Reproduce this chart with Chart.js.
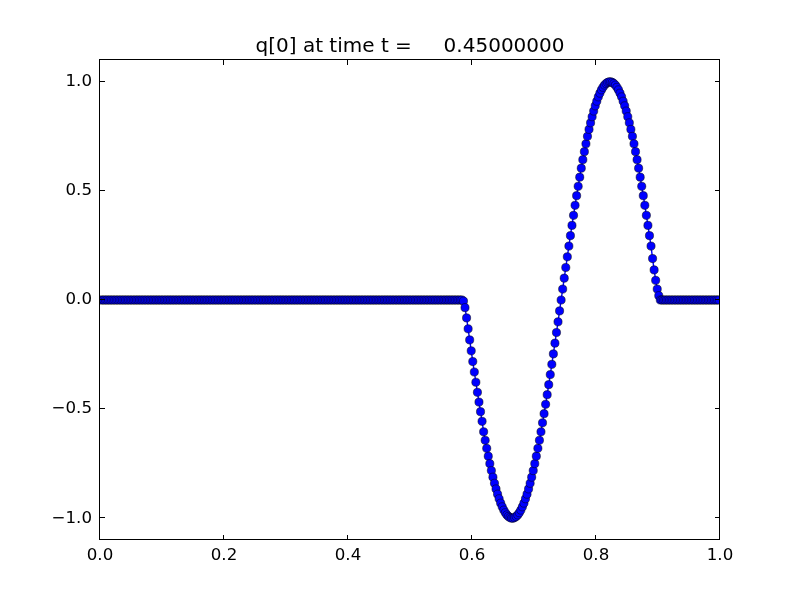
<!DOCTYPE html>
<html>
<head>
<meta charset="utf-8">
<script src="https://cdn.jsdelivr.net/npm/chart.js@4.4.1/dist/chart.umd.min.js"></script>
<style>
  html, body { margin: 0; padding: 0; background: #fff; }
  canvas { display: block; }
</style>
</head>
<body>
<canvas id="qChart" width="800" height="600"></canvas>
<script>
const chartTitle = 'q[0] at time t =     0.45000000';

// 400 cells on [0, 1]; flat left part (234 cells)
const qFlatLeft = [
  0,0,0,0,0,0,0,0,0,0, 0,0,0,0,0,0,0,0,0,0, 0,0,0,0,0,0,
  0,0,0,0,0,0,0,0,0,0, 0,0,0,0,0,0,0,0,0,0, 0,0,0,0,0,0,
  0,0,0,0,0,0,0,0,0,0, 0,0,0,0,0,0,0,0,0,0, 0,0,0,0,0,0,
  0,0,0,0,0,0,0,0,0,0, 0,0,0,0,0,0,0,0,0,0, 0,0,0,0,0,0,
  0,0,0,0,0,0,0,0,0,0, 0,0,0,0,0,0,0,0,0,0, 0,0,0,0,0,0,
  0,0,0,0,0,0,0,0,0,0, 0,0,0,0,0,0,0,0,0,0, 0,0,0,0,0,0,
  0,0,0,0,0,0,0,0,0,0, 0,0,0,0,0,0,0,0,0,0, 0,0,0,0,0,0,
  0,0,0,0,0,0,0,0,0,0, 0,0,0,0,0,0,0,0,0,0, 0,0,0,0,0,0,
  0,0,0,0,0,0,0,0,0,0, 0,0,0,0,0,0,0,0,0,0, 0,0,0,0,0,0
];

// the wave (127 cells)
const qPulse = [
  -0.005, -0.035, -0.082, -0.132, -0.183, -0.233, -0.282, -0.330, -0.377, -0.423,
  -0.468, -0.512, -0.556, -0.604, -0.643, -0.680, -0.716, -0.750, -0.782, -0.812,
  -0.840, -0.866, -0.890, -0.911, -0.931, -0.948, -0.963, -0.975, -0.985, -0.992,
  -0.997, -1.000,
  -1.000, -0.997, -0.992, -0.985, -0.975, -0.963, -0.948, -0.931, -0.911, -0.890,
  -0.866, -0.840, -0.812, -0.782, -0.750, -0.716, -0.680, -0.643, -0.604, -0.563,
  -0.521, -0.478, -0.434, -0.388, -0.342, -0.295, -0.247, -0.198, -0.149, -0.100,
  -0.050, 0.000,
  0.050, 0.100, 0.149, 0.198, 0.247, 0.295, 0.342, 0.388, 0.434, 0.478,
  0.521, 0.563, 0.604, 0.643, 0.680, 0.716, 0.750, 0.782, 0.812, 0.840,
  0.866, 0.890, 0.911, 0.931, 0.948, 0.963, 0.975, 0.985, 0.992, 0.997,
  1.000,
  1.000, 0.997, 0.992, 0.985, 0.975, 0.963, 0.948, 0.931, 0.911, 0.890,
  0.866, 0.840, 0.812, 0.782, 0.750, 0.716, 0.680, 0.643, 0.604, 0.563,
  0.521, 0.478, 0.434, 0.388, 0.342, 0.295, 0.247, 0.190, 0.138, 0.090,
  0.050, 0.020
];

// flat right part (39 cells)
const qFlatRight = [
  0,0,0,0,0,0,0,0,0,0, 0,0,0,0,0,0,0,0,0,0, 0,0,0,0,0,0,
  0,0,0,0,0,0,0,0,0,0, 0,0,0
];

const xTicks = [0, 0.2, 0.4, 0.6, 0.8, 1.0];
const xTickLabels = ['0.0', '0.2', '0.4', '0.6', '0.8', '1.0'];
const yTicks = [-1, -0.5, 0, 0.5, 1];
const yTickLabels = ['\u22121.0', '\u22120.5', '0.0', '0.5', '1.0'];

const qValues = [...qFlatLeft, ...qPulse, ...qFlatRight];
const nCells = qValues.length;
// cell centres
const points = qValues.map((q, i) => ({ x: (i + 0.5) / nCells, y: q }));

const tickFont = { family: '"DejaVu Sans"', size: 16.67 };

// matplotlib style box with inward ticks on all sides + title
const axesFrame = {
  id: 'axesFrame',
  afterDatasetsDraw(chart) {
    const { ctx, chartArea: a, scales } = chart;
    const len = 5;
    ctx.save();
    ctx.strokeStyle = '#000';
    ctx.lineWidth = 1;
    ctx.strokeRect(a.left - 0.5, a.top - 0.5, a.right - a.left, a.bottom - a.top);
    ctx.beginPath();
    xTicks.forEach((v) => {
      const px = Math.round(scales.x.getPixelForValue(v)) - 0.5;
      ctx.moveTo(px, a.bottom);
      ctx.lineTo(px, a.bottom - len);
      ctx.moveTo(px, a.top);
      ctx.lineTo(px, a.top + len);
    });
    yTicks.forEach((v) => {
      const py = Math.round(scales.y.getPixelForValue(v)) - 0.5;
      ctx.moveTo(a.left, py);
      ctx.lineTo(a.left + len, py);
      ctx.moveTo(a.right, py);
      ctx.lineTo(a.right - len, py);
    });
    ctx.stroke();

    ctx.fillStyle = '#000';
    ctx.font = '20px "DejaVu Sans"';
    ctx.textAlign = 'center';
    ctx.textBaseline = 'alphabetic';
    ctx.fillText(chartTitle, (a.left + a.right) / 2, a.top - 8);
    ctx.restore();
  },
};

new Chart(document.getElementById('qChart'), {
  type: 'line',
  data: {
    datasets: [
      {
        data: points,
        borderColor: '#0000ff',
        borderWidth: 1.4,
        backgroundColor: '#0000ff',
        pointBackgroundColor: '#0000ff',
        pointBorderColor: '#000000',
        pointBorderWidth: 0.5,
        pointRadius: 4.1,
        pointHoverRadius: 4.1,
        tension: 0,
        clip: 0,
      },
    ],
  },
  options: {
    responsive: false,
    devicePixelRatio: 1,
    animation: false,
    events: [],
    layout: {
      padding: { left: 0, top: 60, right: 80, bottom: 0 },
    },
    plugins: {
      legend: { display: false },
      title: { display: false },
      tooltip: { enabled: false },
    },
    scales: {
      x: {
        type: 'linear',
        min: 0,
        max: 1,
        grid: { display: false, drawTicks: false },
        border: { display: false },
        afterBuildTicks: (scale) => {
          scale.ticks = xTicks.map((v) => ({ value: v }));
        },
        afterFit: (scale) => {
          scale.height = 60;
        },
        ticks: {
          color: '#000',
          font: tickFont,
          padding: 6,
          maxRotation: 0,
          autoSkip: false,
          callback: (value, index) => xTickLabels[index],
        },
      },
      y: {
        min: -1.1,
        max: 1.1,
        grid: { display: false, drawTicks: false },
        border: { display: false },
        afterBuildTicks: (scale) => {
          scale.ticks = yTicks.map((v) => ({ value: v }));
        },
        afterFit: (scale) => {
          scale.width = 100;
        },
        ticks: {
          color: '#000',
          font: tickFont,
          padding: 8,
          autoSkip: false,
          callback: (value, index) => yTickLabels[index],
        },
      },
    },
  },
  plugins: [axesFrame],
});
</script>
</body>
</html>
